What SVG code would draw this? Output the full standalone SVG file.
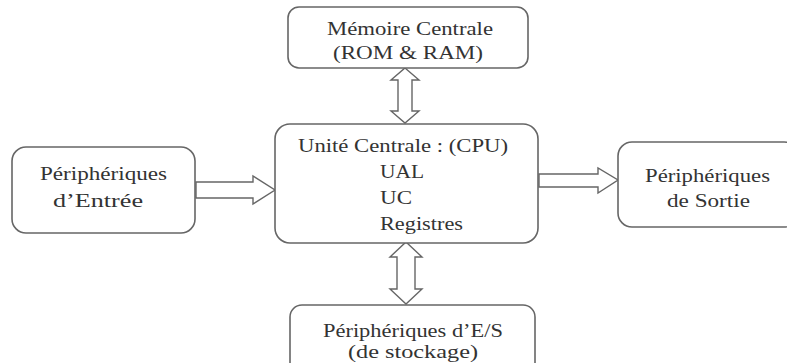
<svg xmlns="http://www.w3.org/2000/svg" width="787" height="363" viewBox="0 0 787 363">
<style>
.box{fill:#fff;stroke:#666;stroke-width:1.6}
.arr{fill:#fff;stroke:#666;stroke-width:1.4;stroke-linejoin:miter}
text{font-family:"Liberation Serif","Times New Roman",serif;font-size:19px;fill:#333}
.c{text-anchor:middle}
</style>
<rect width="787" height="363" fill="#fff"/>
<g id="connectors">
<path class="arr" d="M405,68 L419,80 L412,80 L412,111 L419,111 L405,123 L391,111 L398,111 L398,80 L391,80 Z"/>
<path class="arr" d="M406,242 L422,257 L415,257 L415,289 L422,289 L406,304 L390,289 L397,289 L397,257 L390,257 Z"/>
<path class="arr" d="M196,182 L253,182 L253,176 L275,190 L253,204 L253,198 L196,198 Z"/>
<path class="arr" d="M539,174 L598,174 L598,168 L618,180 L598,193 L598,187 L539,187 Z"/>
</g>
<g id="memoire">
<rect class="box" x="288" y="7" width="240" height="61" rx="11"/>
<text x="327" y="35" textLength="166" lengthAdjust="spacingAndGlyphs">Mémoire Centrale</text>
<text x="333" y="59" textLength="150" lengthAdjust="spacingAndGlyphs">(ROM &amp; RAM)</text>
</g>
<g id="entree">
<rect class="box" x="12" y="147" width="183" height="86" rx="14"/>
<text x="40" y="180" textLength="127" lengthAdjust="spacingAndGlyphs">Périphériques</text>
<text x="53" y="207" textLength="90" lengthAdjust="spacingAndGlyphs">d’Entrée</text>
</g>
<g id="cpu">
<rect class="box" x="275" y="124" width="263" height="119" rx="15"/>
<text x="298" y="152" textLength="210" lengthAdjust="spacingAndGlyphs">Unité Centrale : (CPU)</text>
<text x="380" y="178" textLength="44" lengthAdjust="spacingAndGlyphs">UAL</text>
<text x="380" y="204" textLength="32" lengthAdjust="spacingAndGlyphs">UC</text>
<text x="380" y="230" textLength="83" lengthAdjust="spacingAndGlyphs">Registres</text>
</g>
<g id="sortie">
<rect class="box" x="618" y="142" width="180" height="85" rx="14"/>
<text x="645" y="182" textLength="125" lengthAdjust="spacingAndGlyphs">Périphériques</text>
<text x="667" y="207" textLength="83" lengthAdjust="spacingAndGlyphs">de Sortie</text>
</g>
<g id="stockage">
<rect class="box" x="290" y="305" width="245" height="70" rx="12"/>
<text x="323" y="337" textLength="180" lengthAdjust="spacingAndGlyphs">Périphériques d’E/S</text>
<text x="348" y="358" textLength="130" lengthAdjust="spacingAndGlyphs">(de stockage)</text>
</g>
</svg>
